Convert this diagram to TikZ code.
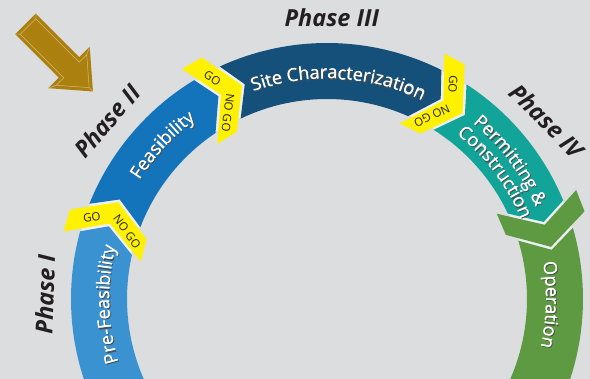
\documentclass[tikz,border=0pt]{standalone}
\usepackage{fontspec}
\setmainfont{Open Sans}
\usetikzlibrary{decorations.text}

\definecolor{bg}{HTML}{DCDDDF}
\definecolor{gapline}{HTML}{EDF0F3}
\definecolor{prefeas}{HTML}{3A92D0}
\definecolor{feas}{HTML}{1474BB}
\definecolor{sitechar}{HTML}{14507A}
\definecolor{permit}{HTML}{13A499}
\definecolor{operation}{HTML}{5E9A42}
\definecolor{gogo}{HTML}{FFF100}
\definecolor{gold}{HTML}{AC800E}
\definecolor{ink}{HTML}{231F20}

% radii of the ring and of the chevrons
\def\rout{256}\def\rin{200}\def\rmid{230}\def\cout{272}\def\cin{190}
\newcommand\seglabelfont{\fontsize{18}{20}\selectfont}

% one stage of the ring, from the chevron tip at #2 to the one at #3
\newcommand\stage[3]{%
	\fill[#1] ({#2+3.07}:\rout) arc[start angle={#2+3.07}, end angle={#3+9.56}, radius=\rout]
		-- ({#3+6.48}:\rmid) -- ({#3+12.18}:\rin)
		arc[start angle={#3+12.18}, end angle={#2+3.87}, radius=\rin]
		-- ({#2-0.75}:\rmid) -- cycle;}

% chevron with its tip at angle #2
\newcommand\chevron[2]{%
	\fill[#1] ({#2+5.69}:\cout) -- (#2:\rmid) -- ({#2+6.63}:\cin) -- ({#2+13.57}:\cin)
		-- ({#2+5.73}:\rmid) -- ({#2+10.53}:\cout) -- cycle;}

% white text with a shadow, set along a clockwise arc: radius, from, to, text
% (the white pass is set twice, a hair apart, to give it some weight)
\newcommand\arclabel[4]{%
	\foreach \dx/\dy/\col in {1.3/-1.3/black!70, 0/0/white, 0.45/0.1/white}
		\path[shift={(\dx,\dy)}, decorate, decoration={text along path, text align=center, text color=\col, text={|\seglabelfont|#4}}]
			(#2:#1) arc[start angle=#2, end angle=#3, radius=#1];}

\begin{document}
\begin{tikzpicture}[x=1pt, y=1pt,
	phase/.style={font=\bfseries\itshape\fontsize{23.5}{26}\selectfont, text=ink},
	gotext/.style={font=\fontsize{11.5}{12}\selectfont, text=ink, inner sep=0pt}]
	\useasboundingbox (0,0) rectangle (590,379);
	\fill[bg] (0,0) rectangle (590,379);
	\clip (0,0) rectangle (590,379);

	% gold arrow
	\begin{scope}[shift={(25.5,355)}, rotate=-45]
		\fill[gold] (0,-14.5) -- (61.5,-14.5) -- (61.5,-29.3) -- (95.4,0) -- (61.5,29.3) -- (61.5,14.5) -- (0,14.5) -- cycle;
		\draw[gold!55!white, line width=0.5pt] (3.5,-11) -- (65,-11) -- (65,-21.6) -- (90,0) -- (65,21.6) -- (65,11) -- (3.5,11) -- cycle;
		\draw[gold!55!white, line width=0.5pt] (0,-14.5) -- (3.5,-11) (0,14.5) -- (3.5,11) (95.4,0) -- (90,0)
			(61.5,29.3) -- (65,21.6) (61.5,-29.3) -- (65,-21.6);
	\end{scope}

	\begin{scope}[shift={(327,80)}]
		\fill[gapline, even odd rule] (0,0) circle (255) circle (201);
		\stage{prefeas}{215}{155.1}
		\stage{feas}{155.1}{111.7}
		\stage{sitechar}{111.7}{53.9}
		\stage{permit}{53.9}{13.1}
		\stage{operation}{13.1}{-40}
		\chevron{operation}{13.1}
		\foreach \tip/\n in {155.1/1,111.7/2,53.9/3} {
			\chevron{gogo}{\tip}
			\node[gotext, rotate=\tip-147] (go\n) at ({\tip+5.7}:249) {GO};
			\node[gotext, rotate=\tip-209] (nogo\n) at ({\tip+6.3}:211) {NO GO};
		}

		\arclabel{218}{203}{160}{Pre-Feasibility}
		\arclabel{222}{157}{117}{Feasibility}
		\arclabel{220}{117}{57}{Site Characterization}
		\arclabel{228}{57}{17}{Permitting {\&}}
		\arclabel{209.5}{59}{15}{Construction}
		\arclabel{219}{18}{-21}{Operation}

		\node[phase, rotate=88] (ph1) at (179:282) {Phase I};
		\node[phase, rotate=49] (ph2) at (141:283) {Phase II};
		\node[phase] (ph3) at (89:281) {Phase III};
		\node[phase, rotate=-45] (ph4) at (39:283) {Phase IV};
	\end{scope}
\end{tikzpicture}
\end{document}
